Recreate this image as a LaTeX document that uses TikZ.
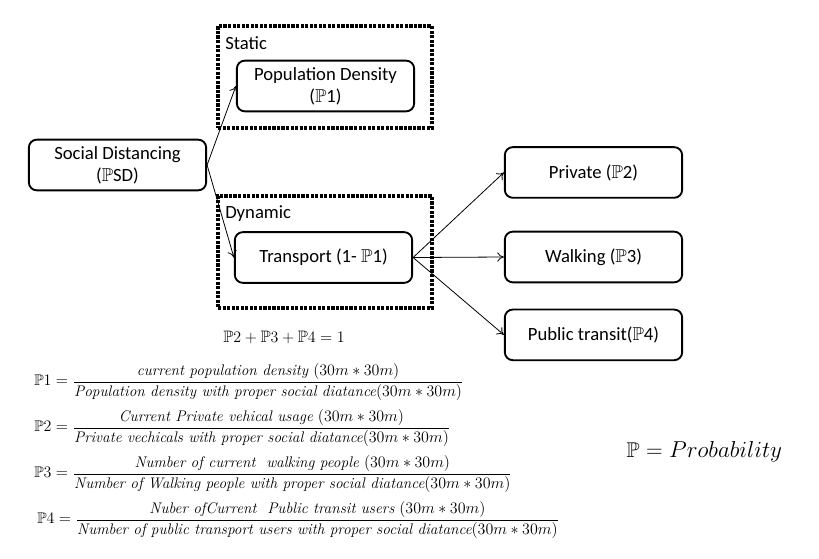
\documentclass[tikz,border=0pt]{standalone}
\usepackage{amsmath}
\usepackage{amssymb}
\usepackage{fontspec}
\newfontfamily\calfont{Carlito}
\usetikzlibrary{positioning,arrows.meta}

\newcommand{\PP}{\ensuremath{\mathbb{P}}}

\begin{document}
\begin{tikzpicture}[
  x=0.75pt, y=-0.75pt,
  box/.style={draw, line width=1.4pt, rounded corners=6pt, minimum width=133pt, minimum height=38pt, align=center, font=\calfont\fontsize{14}{16.5}\selectfont},
  frame/.style={draw, line width=2.3pt, dash pattern=on 2.4pt off 1pt, inner sep=0pt},
  tag/.style={anchor=west, inner sep=0pt, font=\calfont\fontsize{14}{16}\selectfont},
  link/.style={-{To[length=5pt,width=7pt]}, line width=0.6pt},
  eqn/.style={anchor=west, inner sep=0pt, font=\fontsize{11.5}{13}\selectfont},
]
\useasboundingbox (0,0) rectangle (819,558);

% Frames
\node[frame, minimum width=160.5pt, minimum height=76.5pt] (static) at (325,77) {};
\node[frame, minimum width=160.5pt, minimum height=84pt] (dynamic) at (325,252) {};
\node[tag] (statictag) at (225,43) {Static};
\node[tag] (dynamictag) at (225,214) {Dynamic};

% Boxes
\node[box] (sd) at (117.5,165) {Social Distancing\\(\PP SD)};
\node[box] (density) at (325.5,86) {Population Density\\(\PP1)};
\node[box] (transport) at (323.5,257.5) {Transport (1- \PP1)};
\node[box] (walking) at (593.5,257) {Walking (\PP3)};
\node[box, above=24pt of walking] (private) {Private (\PP2)};
\node[box, below=19pt of walking] (public) {Public transit(\PP4)};

% Arrows
\draw[link] (sd.east) -- (density.west);
\draw[link] (sd.east) -- (transport.west);
\draw[link] (transport.east) -- (private.west);
\draw[link] (transport.east) -- (walking.west);
\draw[link] (transport.east) -- (public.west);

% Equations
\node[font=\fontsize{12.4}{14}\selectfont] (sum) at (284,337) {$\PP2 + \PP3 + \PP4 = 1$};
\node[eqn] (eq1) at (34,382) {$\PP1 = \dfrac{\textit{current population density}\ (30m \ast 30m)}{\textit{Population density with proper social diatance}(30m \ast 30m)}$};
\node[eqn] (eq2) at (34,428) {$\PP2 = \dfrac{\textit{Current Private vehical usage}\ (30m \ast 30m)}{\textit{Private vechicals with proper social diatance}(30m \ast 30m)}$};
\node[eqn] (eq3) at (34,474) {$\PP3 = \dfrac{\textit{Number of current\ \ walking people}\ (30m \ast 30m)}{\textit{Number of Walking people with proper social diatance}(30m \ast 30m)}$};
\node[eqn] (eq4) at (37,520) {$\PP4 = \dfrac{\textit{Nuber ofCurrent\ \ Public transit users}\ (30m \ast 30m)}{\textit{Number of public transport users with proper social diatance}(30m \ast 30m)}$};
\node[anchor=west, font=\fontsize{16}{18}\selectfont] (legend) at (622,452) {$\PP = Probability$};

\end{tikzpicture}
\end{document}
